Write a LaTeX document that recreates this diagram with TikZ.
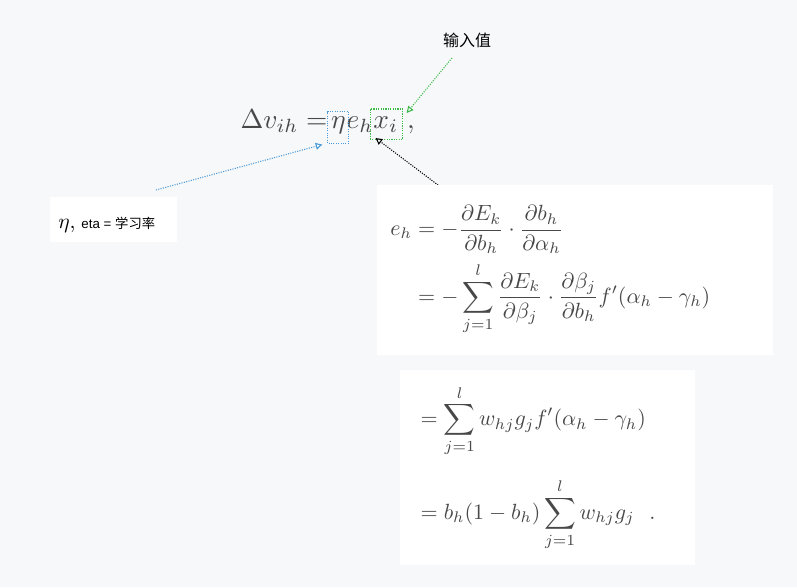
\documentclass[tikz,border=0pt]{standalone}
\usepackage{amsmath}
\usepackage{fontspec}
\newfontfamily\cjk{Noto Sans CJK SC}
\newfontfamily\lsans{Liberation Sans}
\usetikzlibrary{arrows.meta}
\definecolor{bg}{HTML}{F7F8FA}
\definecolor{mgrey}{HTML}{484848}
\definecolor{dblue}{HTML}{4A9AD8}
\definecolor{dgreen}{HTML}{3DBA4A}
\tikzset{
  fm/.style={inner sep=0pt, text=mgrey, scale=2.05, anchor=base west},
  dbox/.style={draw, densely dotted, line width=0.8pt, inner sep=0pt},
  arr/.style={densely dotted, line width=0.8pt, -{Triangle[open,length=5pt,width=5pt]}},
  panel/.style={fill=white, draw=none},
}
\begin{document}
\begin{tikzpicture}[x=0.75pt,y=-0.75pt]
\fill[bg] (0,0) rectangle (797,587);
\node[font=\cjk\large] (lab) at (467,40) {输入值};
% top formula
\node[fm] (f1) at (240,128) {$\Delta v_{ih} =$};
\node[fm] (eta) at ([xshift=2pt]f1.base east) {$\eta$};
\node[fm] (eh) at (eta.base east) {$e_h$};
\node[fm] (xi) at ([xshift=-1pt]eh.base east) {$x_i$};
\node[fm] (cm) at ([xshift=6pt]xi.base east) {$,$};
\draw[dbox, dblue] ([shift={(-2pt,-7pt)}]eta.south west) rectangle ([shift={(2pt,3pt)}]eta.north east);
\draw[dbox, dgreen] ([shift={(-2pt,-5pt)}]xi.south west) rectangle ([shift={(3pt,5pt)}]xi.north east);
\coordinate (ga) at (452,58);
\coordinate (ba) at (156,190);
\coordinate (ka) at (442,188);
\draw[arr, dgreen] (ga) -- ([shift={(6pt,2pt)}]xi.north east);
\draw[arr, dblue] (ba) -- ([shift={(-12pt,-8pt)}]eta.south);
\draw[arr, black] (ka) -- ([shift={(2pt,-4pt)}]xi.south west);
% eta box
\fill[white] (50,197) rectangle (177,242);
\node[anchor=west, inner sep=0pt] (etal) at (58,225) {\scalebox{1.6}{$\eta$,}\;\,{\lsans eta = }{\cjk 学习率}};
% panels
\fill[panel] (377,185) rectangle (773,355);
\fill[panel] (400,370) rectangle (695,565);
\node[anchor=north west, inner sep=0pt, text=mgrey, scale=1.65] (p1) at (390,205) {$\begin{aligned}
e_h &= -\frac{\partial E_k}{\partial b_h}\cdot\frac{\partial b_h}{\partial \alpha_h}\\
&= -\sum_{j=1}^{l}\frac{\partial E_k}{\partial \beta_j}\cdot\frac{\partial \beta_j}{\partial b_h}f'(\alpha_h-\gamma_h)
\end{aligned}$};
\node[anchor=north west, inner sep=0pt, text=mgrey, scale=1.65] (p2) at (414,385) {$\begin{aligned}
&= \sum_{j=1}^{l} w_{hj}g_jf'(\alpha_h-\gamma_h)\\[6pt]
&= b_h(1-b_h)\sum_{j=1}^{l} w_{hj}g_j\ \ .
\end{aligned}$};
\end{tikzpicture}
\end{document}
